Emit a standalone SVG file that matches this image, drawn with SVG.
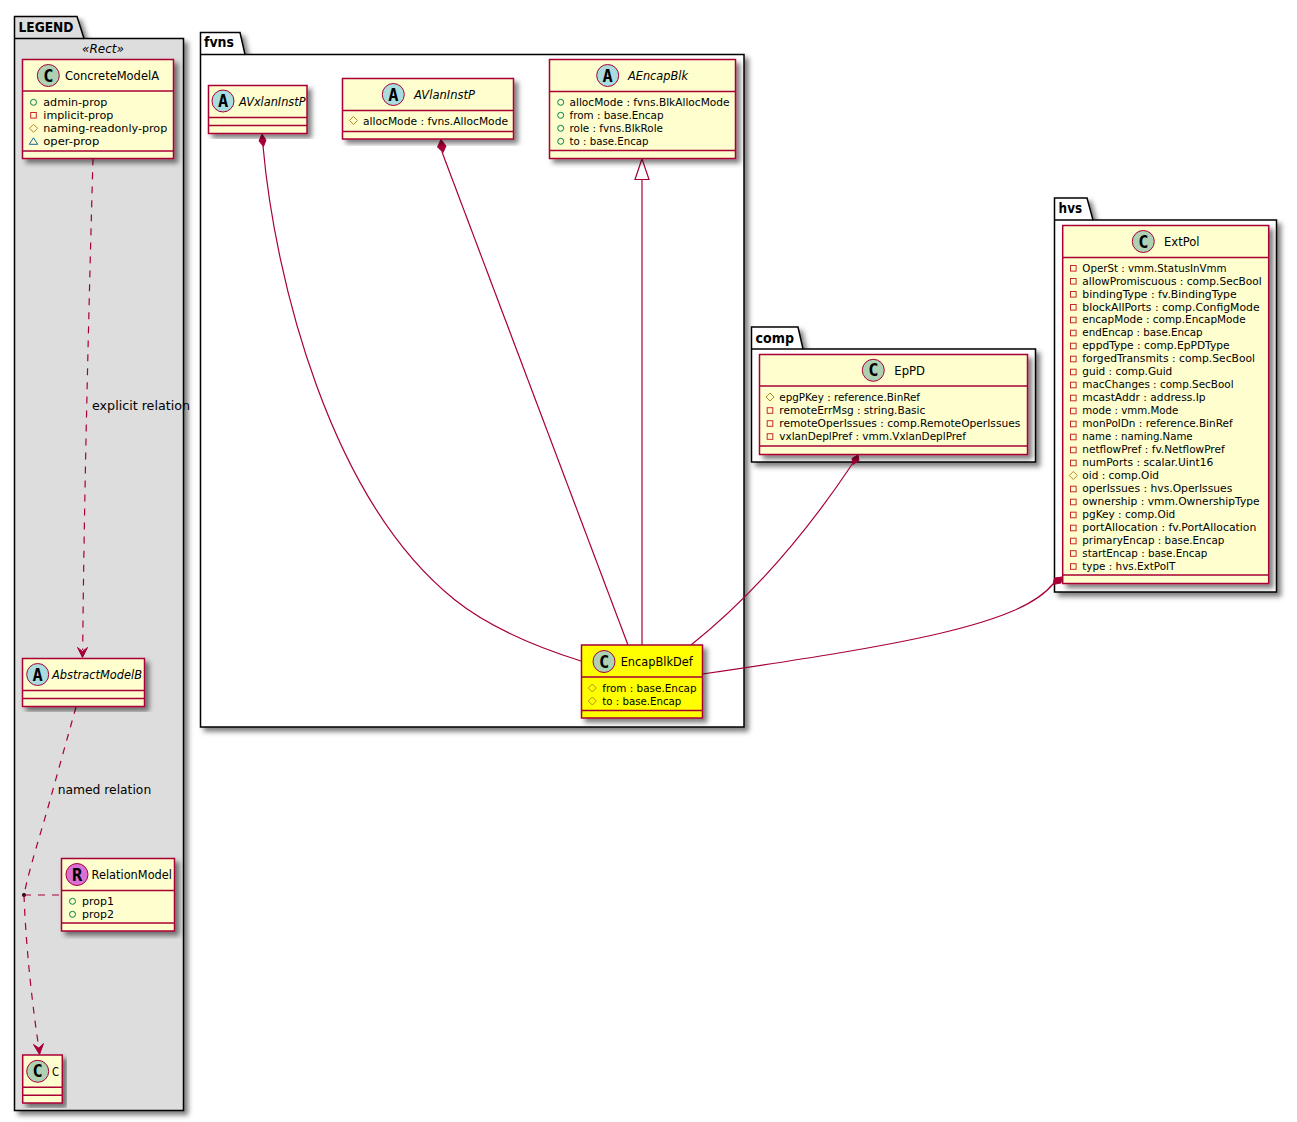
<svg xmlns="http://www.w3.org/2000/svg" width="1297" height="1122" viewBox="0 0 1297 1122">
<style>
text{font-family:"DejaVu Sans","Liberation Sans",sans-serif;fill:#000}
.m{font-size:10.5px}
.n{font-size:12px}
.i{font-style:italic}
.p{font-size:13.5px;font-weight:bold}
.l{font-size:12px}
.g{font-family:"DejaVu Sans Mono","Liberation Mono",monospace;font-size:17px;font-weight:bold;text-anchor:middle}
.pk{fill:#fff;stroke:#000;stroke-width:1.5}
.lg{fill:#DDD}
.b{fill:#FEFECE;stroke:#A80036;stroke-width:1.5}
.y{fill:#FF0}
.d{stroke:#A80036;stroke-width:1.5;fill:none}
.c{fill:none;stroke:#A80036;stroke-width:1.2}
.da{stroke-dasharray:7,7}
.h{stroke:#A80036;stroke-width:1}
.cc{fill:#ADD1B2}.ca{fill:#A9DCDF}.cr{fill:#DA70D6}
.f{fill:#A80036;stroke:#A80036;stroke-width:1}
</style>
<defs>
<filter id="s" x="-10%" y="-10%" width="120%" height="120%"><feDropShadow dx="4" dy="4" stdDeviation="2.5" flood-color="#000" flood-opacity="0.5"/></filter>
<circle id="pub" r="3" fill="none" stroke="#038048"/>
<rect id="pri" x="-2.8" y="-2.8" width="5.6" height="5.6" fill="none" stroke="#C82930"/>
<path id="pro" d="M0-4L4 0L0 4L-4 0Z" fill="none" stroke="#B38D22"/>
<path id="pkg" d="M0-3.5L4.2 3L-4.2 3Z" fill="none" stroke="#1963A0"/>
</defs>

<g id="pkg-legend">
<path class="pk lg" filter="url(#s)" d="M14.5 38.5V16.5H77L84 38.5H183.5V1110.5H14.5Z"/>
<path class="pk" style="fill:none" d="M14.5 38.5H84"/>
<text class="p" x="18.5" y="32" textLength="55" lengthAdjust="spacingAndGlyphs">LEGEND</text>
<text class="i" x="82" y="53" font-size="12.5" textLength="42" lengthAdjust="spacingAndGlyphs">«Rect»</text>
</g>
<g id="pkg-fvns">
<path class="pk" filter="url(#s)" d="M200.5 54.5V32.5H240L245 54.5H744V727H200.5Z"/>
<path class="pk" style="fill:none" d="M200.5 54.5H245"/>
<text class="p" x="204" y="47" textLength="30" lengthAdjust="spacingAndGlyphs">fvns</text>
</g>
<g id="pkg-comp">
<path class="pk" filter="url(#s)" d="M751.5 349V327H798L803 349H1035.5V462H751.5Z"/>
<path class="pk" style="fill:none" d="M751.5 349H803"/>
<text class="p" x="755.5" y="342.5" textLength="38.5" lengthAdjust="spacingAndGlyphs">comp</text>
</g>
<g id="pkg-hvs">
<path class="pk" filter="url(#s)" d="M1054.5 220V198H1087L1093 220H1276.5V592H1054.5Z"/>
<path class="pk" style="fill:none" d="M1054.5 220H1093"/>
<text class="p" x="1058.6" y="213" textLength="23.5" lengthAdjust="spacingAndGlyphs">hvs</text>
</g>

<g id="connectors">
<path class="c da" d="M93 158.5C89 300 84 500 82.7 650"/>
<path class="f" d="M82.5 657.5L77.5 647.5L82.5 651.5L87.5 647.5Z"/>
<text class="l" x="92" y="410" textLength="98" lengthAdjust="spacingAndGlyphs">explicit relation</text>
<path class="c da" d="M76 707L52 793C42 830 30 865 24 895"/>
<text class="l" x="57.7" y="794" textLength="93.5" lengthAdjust="spacingAndGlyphs">named relation</text>
<circle cx="24" cy="895" r="2" fill="#000"/>
<path class="c da" d="M24 895H61"/>
<path class="c da" d="M24 895C26 950 33 1010 38.7 1047"/>
<path class="f" d="M39.5 1054.5L33.5 1044.5L38.8 1048L43.5 1043.5Z"/>
<path class="c" d="M263 146C275 280 330 500 455 600C490 628 540 648 581 661"/>
<path class="f" d="M262 134L266 140L263.5 146.5L259 141Z"/>
<path class="c" d="M442 152L628 645"/>
<path class="f" d="M441 139.5L446 146L443 152.5L437.5 147Z"/>
<path class="c" d="M642 179.5V645"/>
<path d="M642 158.8L635 179.5H649Z" fill="none" stroke="#A80036" stroke-width="1.2"/>
<path class="c" d="M853 463C815 520 760 590 691 645"/>
<path class="f" d="M858 454.8L859 460.5L853 464.5L852 458.5Z"/>
<path class="c" d="M1053 584C1020 625 900 645 702.5 674"/>
<path class="f" d="M1062 577L1061 583L1053 584.5L1054.5 578Z"/>
</g>

<g id="ConcreteModelA">
<rect class="b" filter="url(#s)" x="22.5" y="59.5" width="151" height="99"/>
<path class="d" d="M22.5 91H173.5M22.5 151H173.5"/>
<circle class="h cc" cx="48.3" cy="75.5" r="11"/><text class="g" x="48.3" y="81.5">C</text>
<text class="n" x="65" y="80" textLength="94" lengthAdjust="spacingAndGlyphs">ConcreteModelA</text>
<use href="#pub" x="33.5" y="102.3"/><text class="m" x="43.3" y="106" textLength="64" lengthAdjust="spacingAndGlyphs">admin-prop</text>
<use href="#pri" x="33.5" y="115.3"/><text class="m" x="43.3" y="119" textLength="70" lengthAdjust="spacingAndGlyphs">implicit-prop</text>
<use href="#pro" x="33.5" y="128.3"/><text class="m" x="43.3" y="132" textLength="124" lengthAdjust="spacingAndGlyphs">naming-readonly-prop</text>
<use href="#pkg" x="33.5" y="141.3"/><text class="m" x="43.3" y="145" textLength="56" lengthAdjust="spacingAndGlyphs">oper-prop</text>
</g>
<g id="AbstractModelB">
<rect class="b" filter="url(#s)" x="22.5" y="658.5" width="122" height="48"/>
<path class="d" d="M22.5 690.5H144.5M22.5 698.5H144.5"/>
<circle class="h ca" cx="37.7" cy="674.5" r="11"/><text class="g" x="37.7" y="680.5">A</text>
<text class="n i" x="52" y="679" textLength="90" lengthAdjust="spacingAndGlyphs">AbstractModelB</text>
</g>
<g id="RelationModel">
<rect class="b" filter="url(#s)" x="61.5" y="858.5" width="113" height="72.5"/>
<path class="d" d="M61.5 890.5H174.5M61.5 923H174.5"/>
<circle class="h cr" cx="77" cy="874.5" r="11"/><text class="g" x="77" y="880.5">R</text>
<text class="n" x="91.5" y="879" textLength="80.5" lengthAdjust="spacingAndGlyphs">RelationModel</text>
<use href="#pub" x="72.5" y="901.3"/><text class="m" x="82" y="905" textLength="32" lengthAdjust="spacingAndGlyphs">prop1</text>
<use href="#pub" x="72.5" y="914.3"/><text class="m" x="82" y="918" textLength="32" lengthAdjust="spacingAndGlyphs">prop2</text>
</g>
<g id="C">
<rect class="b" filter="url(#s)" x="22.7" y="1055" width="39.6" height="48"/>
<path class="d" d="M22.7 1087.3H62.3M22.7 1095.3H62.3"/>
<circle class="h cc" cx="37.7" cy="1071.3" r="11"/><text class="g" x="37.7" y="1077.3">C</text>
<text class="n" x="52" y="1076" textLength="7" lengthAdjust="spacingAndGlyphs">C</text>
</g>

<g id="AVxlanInstP">
<rect class="b" filter="url(#s)" x="208.5" y="85.5" width="98.5" height="48"/>
<path class="d" d="M208.5 117.5H307M208.5 125.5H307"/>
<circle class="h ca" cx="223" cy="101" r="11"/><text class="g" x="223" y="107">A</text>
<text class="n i" x="239" y="105.5" textLength="66.5" lengthAdjust="spacingAndGlyphs">AVxlanInstP</text>
</g>
<g id="AVlanInstP">
<rect class="b" filter="url(#s)" x="342.5" y="78.5" width="171" height="60.5"/>
<path class="d" d="M342.5 110.5H513.5M342.5 131.5H513.5"/>
<circle class="h ca" cx="393.3" cy="94.5" r="11"/><text class="g" x="393.3" y="100.5">A</text>
<text class="n i" x="414" y="99" textLength="61" lengthAdjust="spacingAndGlyphs">AVlanInstP</text>
<use href="#pro" x="353.5" y="120.5"/><text class="m" x="363" y="124.5" textLength="145" lengthAdjust="spacingAndGlyphs">allocMode : fvns.AllocMode</text>
</g>
<g id="AEncapBlk">
<rect class="b" filter="url(#s)" x="549.5" y="59.5" width="186" height="99"/>
<path class="d" d="M549.5 91.5H735.5M549.5 150.5H735.5"/>
<circle class="h ca" cx="607.7" cy="75.5" r="11"/><text class="g" x="607.7" y="81.5">A</text>
<text class="n i" x="628" y="80" textLength="60" lengthAdjust="spacingAndGlyphs">AEncapBlk</text>
<use href="#pub" x="560.7" y="102.3"/><text class="m" x="569.5" y="105.8" textLength="160" lengthAdjust="spacingAndGlyphs">allocMode : fvns.BlkAllocMode</text>
<use href="#pub" x="560.7" y="115.3"/><text class="m" x="569.5" y="118.8" textLength="94" lengthAdjust="spacingAndGlyphs">from : base.Encap</text>
<use href="#pub" x="560.7" y="128.3"/><text class="m" x="569.5" y="131.8" textLength="93.5" lengthAdjust="spacingAndGlyphs">role : fvns.BlkRole</text>
<use href="#pub" x="560.7" y="141.3"/><text class="m" x="569.5" y="144.8" textLength="79" lengthAdjust="spacingAndGlyphs">to : base.Encap</text>
</g>
<g id="EncapBlkDef">
<rect class="b y" filter="url(#s)" x="581.5" y="645" width="121" height="73"/>
<path class="d" d="M581.5 677H702.5M581.5 710.5H702.5"/>
<circle class="h cc" cx="604" cy="661.5" r="11"/><text class="g" x="604" y="667.5">C</text>
<text class="n" x="620.7" y="666" textLength="72" lengthAdjust="spacingAndGlyphs">EncapBlkDef</text>
<use href="#pro" x="592.3" y="688"/><text class="m" x="602.3" y="691.7" textLength="94.3" lengthAdjust="spacingAndGlyphs">from : base.Encap</text>
<use href="#pro" x="592.3" y="701"/><text class="m" x="602.3" y="704.7" textLength="79" lengthAdjust="spacingAndGlyphs">to : base.Encap</text>
</g>
<g id="EpPD">
<rect class="b" filter="url(#s)" x="759.5" y="354.5" width="268" height="100"/>
<path class="d" d="M759.5 386H1027.5M759.5 446H1027.5"/>
<circle class="h cc" cx="873.3" cy="370.3" r="11"/><text class="g" x="873.3" y="376.3">C</text>
<text class="n" x="894.3" y="375" textLength="30.7" lengthAdjust="spacingAndGlyphs">EpPD</text>
<use href="#pro" x="770" y="397"/><text class="m" x="779.3" y="400.7" textLength="140.7" lengthAdjust="spacingAndGlyphs">epgPKey : reference.BinRef</text>
<use href="#pri" x="770" y="410.5"/><text class="m" x="779.3" y="413.7" textLength="146" lengthAdjust="spacingAndGlyphs">remoteErrMsg : string.Basic</text>
<use href="#pri" x="770" y="423.5"/><text class="m" x="779.3" y="426.7" textLength="241" lengthAdjust="spacingAndGlyphs">remoteOperIssues : comp.RemoteOperIssues</text>
<use href="#pri" x="770" y="436.5"/><text class="m" x="779.3" y="439.7" textLength="186.7" lengthAdjust="spacingAndGlyphs">vxlanDeplPref : vmm.VxlanDeplPref</text>
</g>
<g id="ExtPol">
<rect class="b" filter="url(#s)" x="1062.7" y="225.5" width="206" height="358"/>
<path class="d" d="M1062.7 257.5H1268.7M1062.7 575H1268.7"/>
<circle class="h cc" cx="1143.3" cy="241.5" r="11"/><text class="g" x="1143.3" y="247.5">C</text>
<text class="n" x="1164" y="246" textLength="35.5" lengthAdjust="spacingAndGlyphs">ExtPol</text>
<use href="#pri" x="1073.3" y="268.3"/><text class="m" x="1082.3" y="271.5" textLength="144.3" lengthAdjust="spacingAndGlyphs">OperSt : vmm.StatusInVmm</text>
<use href="#pri" x="1073.3" y="281.3"/><text class="m" x="1082.3" y="284.5" textLength="179.3" lengthAdjust="spacingAndGlyphs">allowPromiscuous : comp.SecBool</text>
<use href="#pri" x="1073.3" y="294.3"/><text class="m" x="1082.3" y="297.5" textLength="154.3" lengthAdjust="spacingAndGlyphs">bindingType : fv.BindingType</text>
<use href="#pri" x="1073.3" y="307.3"/><text class="m" x="1082.3" y="310.5" textLength="177.3" lengthAdjust="spacingAndGlyphs">blockAllPorts : comp.ConfigMode</text>
<use href="#pri" x="1073.3" y="320"/><text class="m" x="1082.3" y="323" textLength="163.3" lengthAdjust="spacingAndGlyphs">encapMode : comp.EncapMode</text>
<use href="#pri" x="1073.3" y="333"/><text class="m" x="1082.3" y="336" textLength="120.3" lengthAdjust="spacingAndGlyphs">endEncap : base.Encap</text>
<use href="#pri" x="1073.3" y="346"/><text class="m" x="1082.3" y="349" textLength="147.3" lengthAdjust="spacingAndGlyphs">eppdType : comp.EpPDType</text>
<use href="#pri" x="1073.3" y="359"/><text class="m" x="1082.3" y="362" textLength="172.7" lengthAdjust="spacingAndGlyphs">forgedTransmits : comp.SecBool</text>
<use href="#pri" x="1073.3" y="372"/><text class="m" x="1082.3" y="375" textLength="90" lengthAdjust="spacingAndGlyphs">guid : comp.Guid</text>
<use href="#pri" x="1073.3" y="385"/><text class="m" x="1082.3" y="388" textLength="151.3" lengthAdjust="spacingAndGlyphs">macChanges : comp.SecBool</text>
<use href="#pri" x="1073.3" y="398"/><text class="m" x="1082.3" y="401" textLength="123.3" lengthAdjust="spacingAndGlyphs">mcastAddr : address.Ip</text>
<use href="#pri" x="1073.3" y="411"/><text class="m" x="1082.3" y="414" textLength="96" lengthAdjust="spacingAndGlyphs">mode : vmm.Mode</text>
<use href="#pri" x="1073.3" y="424"/><text class="m" x="1082.3" y="427" textLength="150.3" lengthAdjust="spacingAndGlyphs">monPolDn : reference.BinRef</text>
<use href="#pri" x="1073.3" y="437"/><text class="m" x="1082.3" y="440" textLength="110.3" lengthAdjust="spacingAndGlyphs">name : naming.Name</text>
<use href="#pri" x="1073.3" y="450"/><text class="m" x="1082.3" y="453" textLength="142.3" lengthAdjust="spacingAndGlyphs">netflowPref : fv.NetflowPref</text>
<use href="#pri" x="1073.3" y="463"/><text class="m" x="1082.3" y="466" textLength="131" lengthAdjust="spacingAndGlyphs">numPorts : scalar.Uint16</text>
<use href="#pro" x="1073.3" y="475.5"/><text class="m" x="1082.3" y="479" textLength="76.7" lengthAdjust="spacingAndGlyphs">oid : comp.Oid</text>
<use href="#pri" x="1073.3" y="489"/><text class="m" x="1082.3" y="492" textLength="150" lengthAdjust="spacingAndGlyphs">operIssues : hvs.OperIssues</text>
<use href="#pri" x="1073.3" y="502"/><text class="m" x="1082.3" y="505" textLength="177.3" lengthAdjust="spacingAndGlyphs">ownership : vmm.OwnershipType</text>
<use href="#pri" x="1073.3" y="515"/><text class="m" x="1082.3" y="518" textLength="93" lengthAdjust="spacingAndGlyphs">pgKey : comp.Oid</text>
<use href="#pri" x="1073.3" y="528"/><text class="m" x="1082.3" y="531" textLength="174" lengthAdjust="spacingAndGlyphs">portAllocation : fv.PortAllocation</text>
<use href="#pri" x="1073.3" y="541"/><text class="m" x="1082.3" y="544" textLength="142" lengthAdjust="spacingAndGlyphs">primaryEncap : base.Encap</text>
<use href="#pri" x="1073.3" y="553.5"/><text class="m" x="1082.3" y="557" textLength="125" lengthAdjust="spacingAndGlyphs">startEncap : base.Encap</text>
<use href="#pri" x="1073.3" y="566.5"/><text class="m" x="1082.3" y="570" textLength="93" lengthAdjust="spacingAndGlyphs">type : hvs.ExtPolT</text>
</g>
</svg>
